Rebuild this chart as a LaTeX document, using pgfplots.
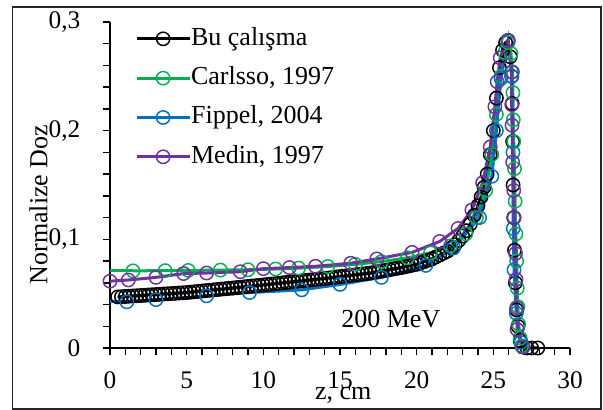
\documentclass[border=0pt]{standalone}
\usepackage{pgfplots}
\pgfplotsset{compat=1.18}
\usepackage{fontspec}
\setmainfont{Liberation Serif}

\definecolor{serGreen}{RGB}{0,176,80}
\definecolor{serBlue}{RGB}{0,112,192}
\definecolor{serPurple}{RGB}{112,48,160}

\pgfplotsset{
  doseline/.style={color=#1, line width=2.25pt, mark=o, mark size=5pt,
    mark options={draw=#1, line width=1.1pt, solid}},
}

\begin{document}
\begin{tikzpicture}
\useasboundingbox (0,0) rectangle (452.25pt,307.5pt);
\draw[line width=1.1pt, black!85] (9.4pt,0.75pt) rectangle (450.75pt,302.25pt);
\begin{axis}[
  at={(82.5pt,46.5pt)}, anchor=south west,
  width=345pt, height=244.5pt, scale only axis,
  xmin=0, xmax=30, ymin=0, ymax=0.3,
  axis lines*=left,
  axis line style={line width=1.5pt, black, -},
  tick align=outside,
  major tick length=5.25pt, minor tick length=5.25pt,
  every tick/.style={line width=1.1pt, black},
  xtick={0,5,...,30}, ytick={0,0.1,0.2,0.3},
  minor x tick num=4, minor y tick num=4,
  /pgf/number format/use comma,
  /pgf/number format/assume math mode=true,
  ticklabel style={font=\fontsize{19}{22}\selectfont},
  xticklabel style={yshift=-9pt},
  yticklabel style={xshift=-13.5pt},
  xlabel={z, cm}, ylabel={Normalize Doz},
  label style={font=\fontsize{19.5}{23}\selectfont},
  xlabel style={at={(rel axis cs:0.507,-0.1196)}, anchor=north, inner sep=0pt},
  ylabel style={at={(rel axis cs:-0.1348,0.44)}, anchor=south, inner sep=0pt},
  clip=false,
  legend style={at={(rel axis cs:0.054,0.985)}, anchor=north west, draw=none, fill=none,
    font=\fontsize{19.5}{23}\selectfont, inner sep=0pt, row sep=12pt,
    nodes={inner sep=0pt, text height=13.5pt, text depth=4pt},
    /tikz/every even column/.append style={column sep=4pt}},
  legend cell align=left,
  legend image code/.code={\draw[#1, mark repeat=2, mark phase=2]
    plot coordinates {(0pt,0pt) (19.9pt,0pt) (39.75pt,0pt)};},
]

% Bu çalışma
\addplot[doseline=black] coordinates {
(0.50,.0470)(0.75,.0472)(1.00,.0474)(1.25,.0477)(1.50,.0479)(1.75,.0481)(2.00,.0483)(2.25,.0485)
(2.50,.0488)(2.75,.0490)(3.00,.0492)(3.25,.0494)(3.50,.0497)(3.75,.0499)(4.00,.0501)(4.25,.0503)
(4.50,.0506)(4.75,.0508)(5.00,.0510)(5.25,.0514)(5.50,.0517)(5.75,.0521)(6.00,.0524)(6.25,.0528)
(6.50,.0531)(6.75,.0535)(7.00,.0538)(7.25,.0542)(7.50,.0545)(7.75,.0549)(8.00,.0552)(8.25,.0556)
(8.50,.0559)(8.75,.0563)(9.00,.0566)(9.25,.0570)(9.50,.0573)(9.75,.0577)(10.00,.0580)(10.25,.0584)
(10.50,.0588)(10.75,.0591)(11.00,.0595)(11.25,.0599)(11.50,.0603)(11.75,.0606)(12.00,.0610)(12.25,.0614)
(12.50,.0618)(12.75,.0621)(13.00,.0625)(13.25,.0629)(13.50,.0633)(13.75,.0636)(14.00,.0640)(14.25,.0644)
(14.50,.0648)(14.75,.0653)(15.00,.0657)(15.25,.0661)(15.50,.0665)(15.75,.0669)(16.00,.0673)(16.25,.0678)
(16.50,.0682)(16.75,.0686)(17.00,.0690)(17.25,.0696)(17.50,.0703)(17.75,.0709)(18.00,.0715)(18.25,.0721)
(18.50,.0728)(18.75,.0734)(19.00,.0740)(19.25,.0748)(19.50,.0755)(19.75,.0763)(20.00,.0770)(20.25,.0783)
(20.50,.0795)(20.75,.0808)(21.00,.0820)(21.25,.0838)(21.50,.0855)(21.75,.0873)(22.00,.0890)(22.25,.0920)
(22.50,.0950)(22.75,.0990)(23.00,.1030)(23.25,.1080)(23.50,.1140)(23.75,.1220)(24.00,.1310)(24.20,.1390)
(24.40,.1480)(24.60,.1600)(24.80,.1780)(25.00,.2000)(25.20,.2300)(25.40,.2580)(25.60,.2740)(25.80,.2810)
(25.96,.2830)(26.10,.2680)(26.20,.2500)(26.23,.2250)(26.26,.1900)(26.29,.1500)(26.33,.1200)(26.38,.0900)
(26.44,.0600)(26.52,.0350)(26.60,.0200)(26.75,.0070)(26.90,.0010)(27.20,0)(27.50,0)(27.90,0)
};
\addlegendentry{Bu çalışma}

% Carlsson, 1997
\addplot[color=serGreen, line width=2.25pt, forget plot] coordinates {(0,.0710)(1.5,.0710)};
\addplot[doseline=serGreen] coordinates {
(1.5,.0710)(3.6,.0712)(5.1,.0714)(7.2,.0717)(9.0,.0720)(10.8,.0727)(12.3,.0735)(14.2,.0750)
(16.0,.0770)(17.7,.0795)(19.4,.0830)(20.9,.0875)(22.2,.0940)(23.2,.1050)(23.9,.1200)(24.5,.1450)
(24.9,.1780)(25.2,.2150)(25.5,.2500)(25.75,.2720)(25.96,.2810)(26.15,.2710)(26.25,.2540)(26.28,.2350)
(26.30,.2100)(26.33,.1900)(26.38,.1650)(26.42,.1350)(26.47,.1050)(26.52,.0800)(26.56,.0550)(26.60,.0380)
(26.65,.0220)(26.75,.0090)(26.85,.0020)
};
\addlegendentry{Carlsso, 1997}

% Fippel, 2004
\addplot[color=serBlue, line width=2.25pt, forget plot] coordinates {(0,.0430)(1.1,.0425)};
\addplot[doseline=serBlue] coordinates {
(1.1,.0425)(3.0,.0445)(6.3,.0480)(9.1,.0510)(12.5,.0535)(15.0,.0585)(17.7,.0650)(20.6,.0760)
(22.4,.0920)(24.1,.1200)(24.9,.1580)(25.2,.2000)(25.5,.2480)(25.96,.2830)(26.2,.2500)(26.28,.1800)
(26.30,.1100)(26.35,.0720)(26.50,.0320)(26.80,.0050)
};
\addlegendentry{Fippel, 2004}

% Medin, 1997
\addplot[doseline=serPurple] coordinates {
(0,.0615)(1.2,.0626)(3.0,.0650)(4.8,.0685)(6.3,.0690)(8.5,.0702)(10.0,.0730)(11.7,.0740)
(13.4,.0752)(15.7,.0780)(17.4,.0820)(19.7,.0880)(21.5,.0980)(22.7,.1100)(23.6,.1270)(24.3,.1520)
(24.8,.1850)(25.1,.2220)(25.25,.2450)(25.45,.2670)(25.96,.2830)(26.2,.2540)(26.2,.2240)(26.22,.2050)
(26.26,.1710)(26.33,.1450)(26.36,.1200)(26.45,.0870)(26.48,.0630)(26.52,.0370)(26.55,.0170)(26.95,.0010)
};
\addlegendentry{Medin, 1997}

\node[anchor=base west, inner sep=0pt, font=\fontsize{19.5}{23}\selectfont]
  at (axis cs:15.07,0.0193) {200 MeV};
\end{axis}
\end{tikzpicture}
\end{document}
